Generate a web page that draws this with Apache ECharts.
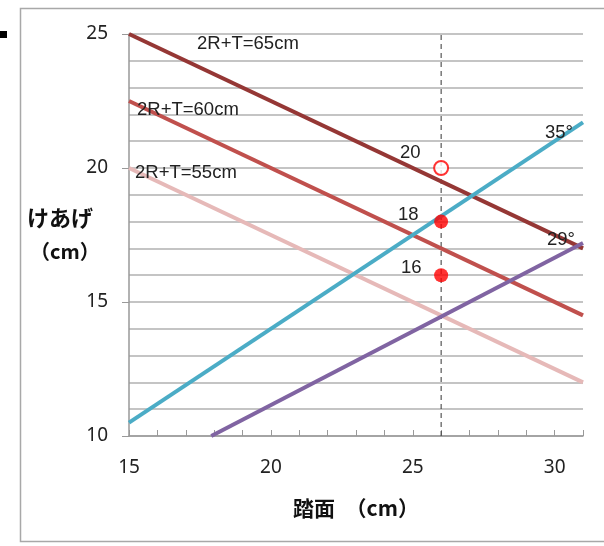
<!DOCTYPE html>
<html>
<head>
<meta charset="utf-8">
<script src="https://cdn.jsdelivr.net/npm/echarts@6/dist/echarts.min.js"></script>
<style>html,body{margin:0;padding:0;background:#fff;}#c{width:604px;height:546px;}</style>
</head>
<body>
<div id="c"></div>
<script>
// Data
const xTicks = [15, 20, 25, 30];
const yTicks = [10, 15, 20, 25];
const line65 = [[15, 25], [31, 17]];
const line60 = [[15, 22.5], [31, 14.5]];
const line55 = [[15, 20], [31, 12]];
const line35deg = [[15, 10.5], [31, 21.7]];
const line29deg = [[17.9, 10], [31, 17.2]];
const refLine = [[26, 10], [26, 25.3]];
const openPoints = [[26, 20]];
const filledPoints = [[26, 18], [26, 16]];
const annotations = [
  { text: '2R+T=65cm', x: 197, y: 44 },
  { text: '2R+T=60cm', x: 137, y: 110 },
  { text: '2R+T=55cm', x: 135, y: 173 },
  { text: '20', x: 400, y: 153 },
  { text: '18', x: 398, y: 215 },
  { text: '16', x: 401, y: 268 },
  { text: '35°', x: 545, y: 133 },
  { text: '29°', x: 547, y: 240 }
];

const chart = echarts.init(document.getElementById('c'), null, { renderer: 'canvas' });
const txtFont = '"Liberation Sans", Arial, sans-serif';
const numFont = '"Noto Sans", "DejaVu Sans", sans-serif';
const cjkFont = '"Noto Sans CJK JP", "Noto Sans CJK SC", sans-serif';

function lineSeries(name, data, color, width) {
  return { name, type: 'line', data, symbol: 'none', silent: true,
    lineStyle: { color, width }, z: 3, animation: false };
}

const graphics = [
  { type: 'rect', shape: { x: 20.5, y: 8.5, width: 600, height: 533 },
    style: { fill: 'none', stroke: '#a8a8a8', lineWidth: 1.5 }, z: 0 },
  { type: 'rect', shape: { x: 0, y: 31, width: 7, height: 7 }, style: { fill: '#000' } },
  { type: 'text', left: 27, top: 207, style: { text: 'けあげ', font: 'bold 22px ' + cjkFont, fill: '#111' } },
  { type: 'text', left: 30, top: 241, style: { text: '（cm）', font: 'bold 20px ' + cjkFont, fill: '#111' } }
];
annotations.forEach(a => graphics.push({
  type: 'text', x: a.x, y: a.y,
  style: { text: a.text, font: '18.5px ' + txtFont, fill: '#222', textVerticalAlign: 'middle' }, z: 10
}));

chart.setOption({
  animation: false,
  backgroundColor: '#fff',
  grid: { left: 129, right: 21, top: 34, bottom: 110 },
  xAxis: {
    type: 'value', min: 15, max: 31, interval: 5,
    name: '踏面　（cm）', nameLocation: 'middle', nameGap: 62,
    nameTextStyle: { fontFamily: cjkFont, fontWeight: 'bold', fontSize: 21, color: '#111' },
    axisLine: { show: true, lineStyle: { color: '#999', width: 1.5 } },
    axisTick: { show: true, inside: true, length: 6, lineStyle: { color: '#999' } },
    minorTick: { show: true, splitNumber: 5, length: 6, lineStyle: { color: '#999' } },
    axisLabel: { fontFamily: numFont, fontSize: 19, color: '#222', margin: 22,
      formatter: v => xTicks.includes(v) ? String(v) : '' },
    splitLine: { show: false }
  },
  yAxis: {
    type: 'value', min: 10, max: 25, interval: 5,
    axisLine: { show: true, lineStyle: { color: '#999', width: 1.5 } },
    axisTick: { show: true, inside: false, length: 7, lineStyle: { color: '#999' } },
    axisLabel: { fontFamily: numFont, fontSize: 19, color: '#222', margin: 21,
      formatter: v => yTicks.includes(v) ? String(v) : '' },
    splitLine: { show: true, lineStyle: { color: '#c4c4c4', width: 2 } },
    minorSplitLine: { show: true, lineStyle: { color: '#c4c4c4', width: 2 } },
    minorTick: { show: false, splitNumber: 5 }
  },
  graphic: graphics,
  series: [
    { type: 'line', data: refLine, symbol: 'none', silent: true,
      lineStyle: { color: '#333', width: 1, type: [5, 4] }, z: 2 },
    lineSeries('55', line55, '#E6B9B8', 4),
    lineSeries('60', line60, '#C0504D', 4),
    lineSeries('65', line65, '#953735', 4),
    lineSeries('35deg', line35deg, '#4BACC6', 4),
    lineSeries('29deg', line29deg, '#8064A2', 4),
    { type: 'scatter', data: openPoints, symbol: 'circle', symbolSize: 14,
      itemStyle: { color: '#fff', borderColor: '#FF0000', borderWidth: 2 }, z: 5 },
    { type: 'scatter', data: filledPoints, symbol: 'circle', symbolSize: 14,
      itemStyle: { color: '#FF0000' }, z: 5 }
  ]
});
</script>
</body>
</html>
